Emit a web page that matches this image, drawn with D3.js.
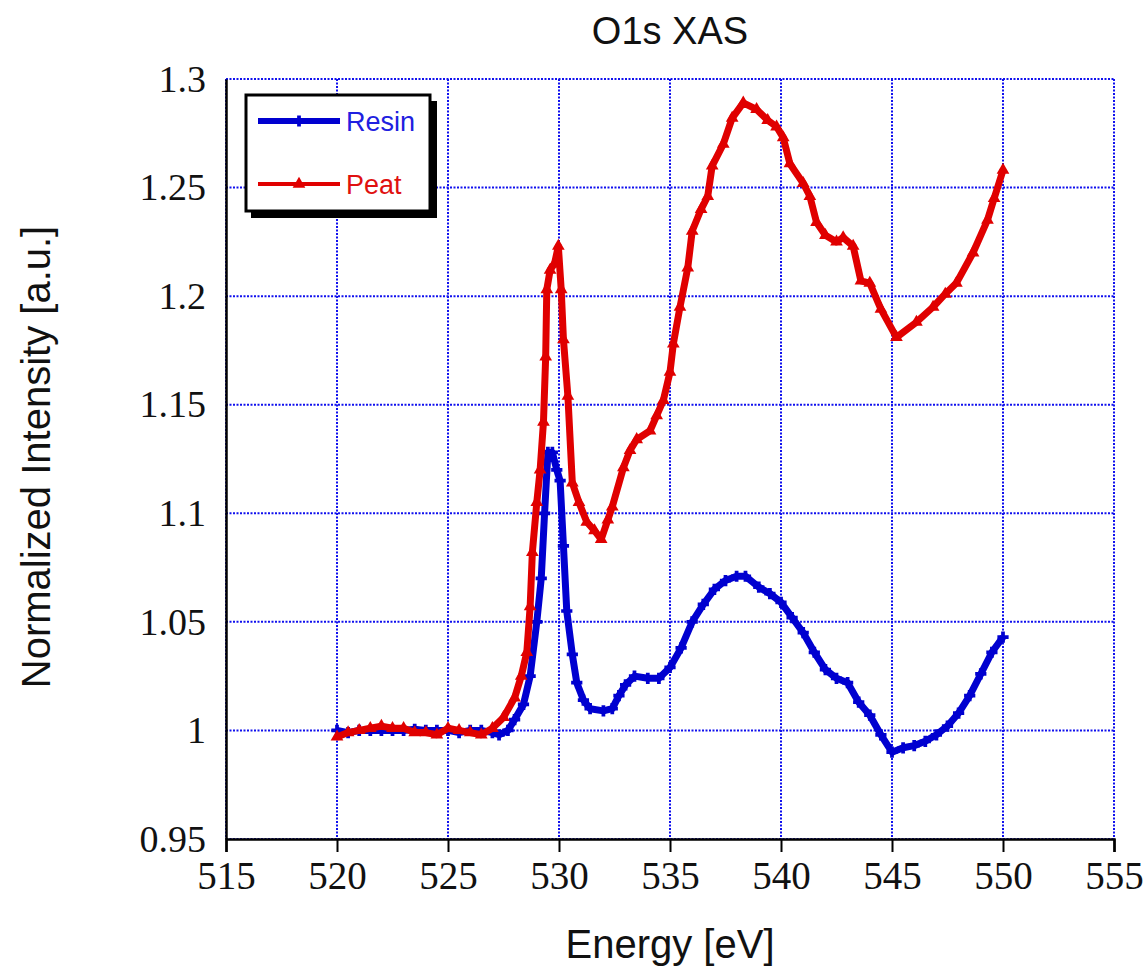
<!DOCTYPE html>
<html>
<head>
<meta charset="utf-8">
<script src="https://cdn.jsdelivr.net/npm/d3@7"></script>
<style>
  body { margin: 0; background: #fff; }
  svg { display: block; }
</style>
</head>
<body>
<script>
'use strict';

// data
const resinEnergy = [520, 520.5, 521, 521.5, 522, 522.5, 523, 523.5, 524, 524.5, 525, 525.5, 526, 526.5, 527, 527.3,
  527.7, 528, 528.4, 528.7, 529, 529.2, 529.35, 529.5, 529.7, 529.9, 530.05, 530.2, 530.35, 530.6, 530.8, 531.1,
  531.4, 532, 532.4, 532.7, 533, 533.4, 534, 534.5, 535, 535.5, 536, 536.5, 537, 537.5, 538, 538.4, 539, 539.5,
  540, 540.5, 541, 541.5, 542, 542.5, 543, 543.5, 544, 544.5, 545, 545.5, 546, 546.5, 547, 547.5, 548, 548.5,
  549, 549.5, 550];
const resinIntensity = [1.000, 0.999, 1.000, 1.000, 1.000, 1.000, 1.000, 1.0005, 1.000, 1.000, 1.000, 0.999, 1.000, 1.000, 0.999, 0.998,
  1.000, 1.005, 1.012, 1.025, 1.050, 1.070, 1.100, 1.128, 1.128, 1.120, 1.115, 1.085, 1.055, 1.035, 1.022, 1.014,
  1.010, 1.009, 1.010, 1.016, 1.021, 1.025, 1.024, 1.024, 1.029, 1.038, 1.050, 1.058, 1.065, 1.069, 1.071, 1.071, 1.066, 1.063,
  1.059, 1.052, 1.045, 1.036, 1.028, 1.024, 1.022, 1.013, 1.007, 0.998, 0.990, 0.992, 0.993, 0.995, 0.998, 1.002, 1.008, 1.016,
  1.026, 1.036, 1.043];

const peatEnergy = [520, 520.5, 521, 521.5, 522, 522.5, 523, 523.5, 524, 524.5, 525, 525.5, 526, 526.5, 527, 527.5,
  528, 528.3, 528.55, 528.7, 528.8, 529, 529.15, 529.3, 529.4, 529.45, 529.6, 529.8, 529.97, 530.1, 530.2, 530.4,
  530.6, 530.9, 531.25, 531.6, 531.9, 532.2, 532.4, 532.9, 533.2, 533.5, 534.1, 534.4, 534.7, 535, 535.15, 535.45,
  535.8, 536, 536.4, 536.7, 536.9, 537.4, 537.8, 538.3, 538.9, 539.4, 539.8, 540.1, 540.4, 541, 541.3, 541.6,
  542, 542.5, 542.8, 543.25, 543.6, 544, 544.5, 545.2, 546.1, 546.85, 547.4, 547.9, 548.65, 549.3, 549.6, 550];
const peatIntensity = [0.997, 0.999, 1.000, 1.001, 1.002, 1.001, 1.001, 0.999, 0.999, 0.998, 1.001, 1.000, 0.999, 0.998, 1.001, 1.006,
  1.015, 1.025, 1.036, 1.057, 1.082, 1.105, 1.120, 1.142, 1.172, 1.203, 1.212, 1.215, 1.223, 1.203, 1.180, 1.154,
  1.114, 1.105, 1.096, 1.092, 1.088, 1.097, 1.103, 1.121, 1.129, 1.134, 1.138, 1.145, 1.152, 1.165, 1.178, 1.195,
  1.213, 1.230, 1.240, 1.246, 1.260, 1.270, 1.282, 1.289, 1.286, 1.281, 1.278, 1.273, 1.261, 1.252, 1.246, 1.234,
  1.228, 1.225, 1.227, 1.223, 1.207, 1.206, 1.194, 1.181, 1.188, 1.195, 1.201, 1.206, 1.220, 1.235, 1.245, 1.258];

const xTicks = [515, 520, 525, 530, 535, 540, 545, 550, 555];
const yTicks = [0.95, 1, 1.05, 1.1, 1.15, 1.2, 1.25, 1.3];
const seriesNames = ['Resin', 'Peat'];
const seriesColors = ['#0000d0', '#e00000'];

(function () {
  const W = 1147, H = 972;
  const mLeft = 226, mRight = 1114, mTop = 79, mBottom = 839;

  const svg = d3.select('body').append('svg')
    .attr('width', W)
    .attr('height', H);

  const x = d3.scaleLinear().domain([515, 555]).range([mLeft, mRight]);
  const y = d3.scaleLinear().domain([0.95, 1.3]).range([mBottom, mTop]);

  // grid, dotted blue
  const grid = svg.append('g');
  grid.selectAll('line.vx')
    .data(xTicks)
    .enter().append('line')
    .attr('x1', d => x(d)).attr('x2', d => x(d))
    .attr('y1', mTop).attr('y2', mBottom)
    .attr('stroke', '#1010ee').attr('stroke-width', 2)
    .attr('stroke-dasharray', '2,1.5');
  grid.selectAll('line.hy')
    .data(yTicks)
    .enter().append('line')
    .attr('x1', mLeft).attr('x2', mRight)
    .attr('y1', d => y(d)).attr('y2', d => y(d))
    .attr('stroke', '#1010ee').attr('stroke-width', 2)
    .attr('stroke-dasharray', '2,1.5');

  // axes
  const xAxis = svg.append('g')
    .attr('transform', `translate(0,${mBottom})`)
    .call(d3.axisBottom(x).tickValues(xTicks).tickSize(13).tickPadding(9).tickFormat(d3.format('d')));
  xAxis.select('.domain').attr('stroke', '#000').attr('stroke-width', 2.5);
  xAxis.selectAll('.tick line').attr('stroke', '#000').attr('stroke-width', 2);
  xAxis.selectAll('text')
    .attr('font-family', '"Liberation Serif", "Times New Roman", serif')
    .attr('font-size', 39).attr('fill', '#111');

  const yAxis = svg.append('g')
    .attr('transform', `translate(${mLeft},0)`)
    .call(d3.axisLeft(y).tickValues(yTicks).tickSize(0).tickPadding(20).tickFormat(d => String(+d.toFixed(2))));
  yAxis.select('.domain').attr('stroke', '#000').attr('stroke-width', 2.5);
  yAxis.selectAll('text')
    .attr('font-family', '"Liberation Serif", "Times New Roman", serif')
    .attr('font-size', 38).attr('fill', '#111');

  // data lines
  const resin = resinEnergy.map((e, i) => [e, resinIntensity[i]]);
  const peat = peatEnergy.map((e, i) => [e, peatIntensity[i]]);
  const line = d3.line().x(d => x(d[0])).y(d => y(d[1]));

  const series = [resin, peat];
  const symbols = [d3.symbolCross, d3.symbolTriangle];

  series.forEach((s, k) => {
    svg.append('path')
      .datum(s)
      .attr('d', line)
      .attr('fill', 'none')
      .attr('stroke', seriesColors[k])
      .attr('stroke-width', 7)
      .attr('stroke-linejoin', 'round');
    svg.append('g').selectAll('path')
      .data(s)
      .enter().append('path')
      .attr('transform', d => `translate(${x(d[0])},${y(d[1])})`)
      .attr('d', d3.symbol().type(symbols[k]).size(70))
      .attr('fill', seriesColors[k]);
  });

  // legend
  const lg = svg.append('g');
  lg.append('rect').attr('x', 251).attr('y', 101).attr('width', 186).attr('height', 117).attr('fill', '#000');
  lg.append('rect').attr('x', 246).attr('y', 95).attr('width', 184).attr('height', 116)
    .attr('fill', '#fff').attr('stroke', '#000').attr('stroke-width', 3);
  const legendY = [121, 184];
  const legendW = [6, 4];
  seriesNames.forEach((name, k) => {
    lg.append('line')
      .attr('x1', 258).attr('x2', 340)
      .attr('y1', legendY[k]).attr('y2', legendY[k])
      .attr('stroke', seriesColors[k]).attr('stroke-width', legendW[k]);
    lg.append('path')
      .attr('transform', `translate(299,${legendY[k]})`)
      .attr('d', d3.symbol().type(symbols[k]).size(70))
      .attr('fill', seriesColors[k]);
    lg.append('text')
      .attr('x', 346).attr('y', legendY[k] + 10)
      .attr('font-family', '"Liberation Sans", Arial, sans-serif')
      .attr('font-size', 27)
      .attr('fill', k === 0 ? '#2020e0' : '#e01010')
      .text(name);
  });

  // titles
  svg.append('text')
    .attr('x', (mLeft + mRight) / 2).attr('y', 44)
    .attr('text-anchor', 'middle')
    .attr('font-family', '"Liberation Sans", Arial, sans-serif')
    .attr('font-size', 38)
    .attr('fill', '#111')
    .text('O1s XAS');

  svg.append('text')
    .attr('x', (mLeft + mRight) / 2).attr('y', 958)
    .attr('text-anchor', 'middle')
    .attr('font-family', '"Liberation Sans", Arial, sans-serif')
    .attr('font-size', 40)
    .attr('fill', '#111')
    .text('Energy [eV]');

  svg.append('text')
    .attr('transform', `translate(50,${(mTop + mBottom) / 2 - 2}) rotate(-90)`)
    .attr('text-anchor', 'middle')
    .attr('font-family', '"Liberation Sans", Arial, sans-serif')
    .attr('font-size', 40)
    .attr('fill', '#111')
    .text('Normalized Intensity [a.u.]');
})();
</script>
</body>
</html>
